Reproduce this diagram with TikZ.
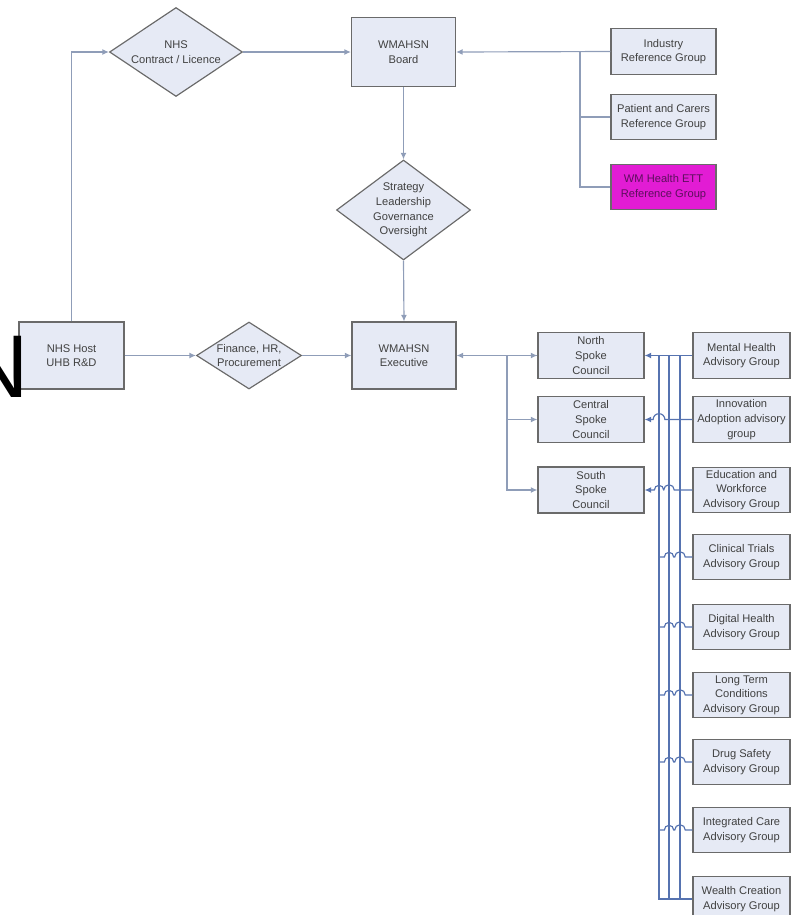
\documentclass[tikz,border=0pt]{standalone}
\usepackage{fontspec}
\setmainfont{Liberation Sans}
\usepackage{tikz}
\usetikzlibrary{calc,arrows.meta,positioning,shapes.geometric}
\definecolor{boxfill}{HTML}{E6EAF5}
\definecolor{boxedge}{HTML}{6A6A6A}
\definecolor{boxtext}{HTML}{404040}
\definecolor{linkgray}{HTML}{8F9DB8}
\definecolor{busblue}{HTML}{5673B0}
\definecolor{ettmagenta}{HTML}{E21CD4}
\definecolor{ettpurple}{HTML}{5C0F5C}

\begin{document}
\begin{tikzpicture}[x=0.03cm, y=-0.03cm,
  box/.style={rectangle, draw=boxedge, fill=boxfill, line width=1pt, align=center,
    font=\fontsize{9.5}{12.5}\selectfont, text=boxtext, inner sep=1pt},
  mainbox/.style={box, minimum width=3.12cm, minimum height=2.05cm},
  refbox/.style={box, minimum width=3.15cm, minimum height=1.37cm},
  spokebox/.style={box, minimum width=3.18cm, minimum height=1.38cm},
  advbox/.style={box, minimum width=2.91cm, minimum height=1.36cm},
  decision/.style={diamond, draw=boxedge, fill=boxfill, line width=1pt, inner sep=0pt},
  dtext/.style={align=center, font=\fontsize{9.5}{12.5}\selectfont, text=boxtext},
  link/.style={draw=linkgray, line width=1pt, -{Latex[length=5.5pt,width=5pt]}},
  plain/.style={draw=linkgray, line width=1pt},
  busline/.style={draw=busblue, line width=1pt},
  buslink/.style={busline, -{Latex[length=5.5pt,width=5pt]}}
]
\useasboundingbox (0,0) rectangle (792,915);
\clip (0,0) rectangle (792,915);
% ── Board level ──────────────────────────────────
\node[mainbox] (board) at (403.5,52) {WMAHSN\\Board};
\node[decision, minimum width=3.99cm, minimum height=2.67cm,
  label={[dtext]center:{NHS\\Contract / Licence}}] (contract) at (176,52) {};
\node[decision, minimum width=4.02cm, minimum height=3.0cm,
  label={[dtext]center:{Strategy\\Leadership\\Governance\\Oversight}}] (strategy) at (403.5,210) {};
\node[refbox] (industry) at (663.5,51.5) {Industry\\Reference Group};
\node[refbox] (patient) at (663.5,117) {Patient and Carers\\Reference Group};
\node[refbox, fill=ettmagenta, text=ettpurple] (ett) at (663.5,187) {WM Health ETT\\Reference Group};
\coordinate (refj) at (580,51.5);
% ── Executive level ──────────────────────────────
\node[mainbox, minimum width=3.15cm, minimum height=2.01cm] (host) at (71.5,355.5) {NHS Host\\UHB R\&D};
\node[decision, minimum width=3.15cm, minimum height=2.01cm,
  label={[dtext]center:{Finance, HR,\\Procurement}}] (finance) at (249,355.5) {};
\node[mainbox, minimum height=2.01cm] (exec) at (404,355.5) {WMAHSN\\Executive};
% ── Spoke councils ───────────────────────────────
\node[spokebox] (north) at (591,355.5) {North\\Spoke\\Council};
\node[spokebox] (central) at (591,419.5) {Central\\Spoke\\Council};
\node[spokebox] (south) at (591,490) {South\\Spoke\\Council};
\coordinate (spj) at (507,355.5);
% ── Advisory groups ──────────────────────────────
\node[advbox] (mental) at (741.5,355.5) {Mental Health\\Advisory Group};
\node[advbox] (innov) at (741.5,419.5) {Innovation\\Adoption advisory\\group};
\node[advbox] (educ) at (741.5,490) {Education and\\Workforce\\Advisory Group};
\node[advbox] (trials) at (741.5,557) {Clinical Trials\\Advisory Group};
\node[advbox] (digital) at (741.5,627) {Digital Health\\Advisory Group};
\node[advbox] (longterm) at (741.5,695) {Long Term\\Conditions\\Advisory Group};
\node[advbox] (drug) at (741.5,762) {Drug Safety\\Advisory Group};
\node[advbox] (integrated) at (741.5,830) {Integrated Care\\Advisory Group};
\node[advbox] (wealth) at (741.5,899) {Wealth Creation\\Advisory Group};
\coordinate (busA) at (659,355.5);
\coordinate (busB) at (669,355.5);
\coordinate (busC) at (680,355.5);
% ── Connectors ───────────────────────────────────
\draw[link] (host.north) |- (contract.west);
\draw[link] (contract.east) -- (board.west);
\draw[link] (industry.west) -- (board.east);
\draw[plain] (refj) |- (patient.west);
\draw[plain] (refj) |- (ett.west);
\draw[link] (board.south) -- (strategy.north);
\draw[link] (strategy.south) -- (exec.north);
\draw[link] (host.east) -- (finance.west);
\draw[link] (finance.east) -- (exec.west);
\draw[link] (north.west) -- (exec.east);
\draw[link] (spj) -- (north.west);
\draw[link] (spj) |- (central.west);
\draw[link] (spj) |- (south.west);
% buses from the advisory groups
\draw[busline] (busA) -- (busA |- wealth.west) -- (wealth.west);
\draw[busline] (busB) -- (busB |- wealth.west);
\draw[busline] (busC) -- (busC |- wealth.west);
\draw[buslink] (mental.west) -- (north.east);
\draw[buslink] (innov.west) -- ($(busA |- innov.west)+(5pt,0)$)
  arc[start angle=0, end angle=180, radius=5pt] -- (central.east);
\draw[buslink] (educ.west) -- ($(busB |- educ.west)+(4.5pt,0)$)
  arc[start angle=0, end angle=180, radius=4.5pt] -- ($(busA |- educ.west)+(4pt,0)$)
  arc[start angle=0, end angle=180, radius=4pt] -- (south.east);
\foreach \g in {trials,digital,longterm,drug,integrated} {
  \draw[busline] (\g.west) -- ($(busC |- \g.west)+(4.5pt,0)$)
    arc[start angle=0, end angle=180, radius=4.5pt] -- ($(busB |- \g.west)+(4pt,0)$)
    arc[start angle=0, end angle=180, radius=4pt] -- (busA |- \g.west);
}
% title fragment at the left edge
\node[font=\fontsize{76}{76}\selectfont, anchor=base east, inner sep=0pt] (titleN) at (29,397) {N};
\end{tikzpicture}
\end{document}
